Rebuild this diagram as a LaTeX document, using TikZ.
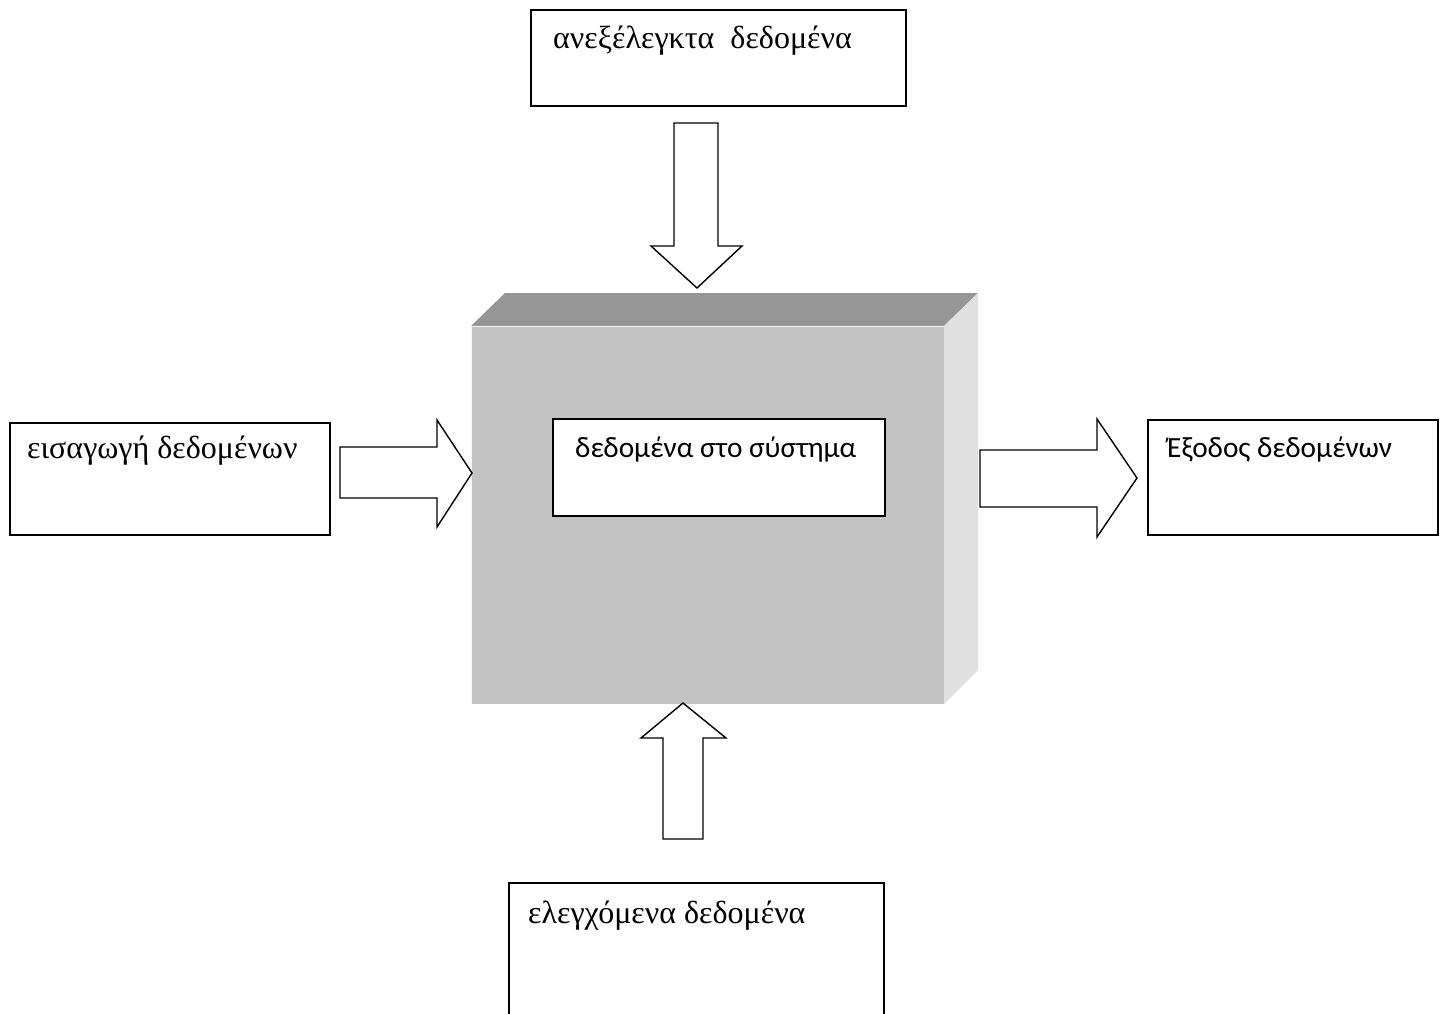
\documentclass[tikz,border=0pt]{standalone}
\usepackage{fontspec}
\setmainfont{Liberation Serif}
\newfontfamily\sansgr{Carlito}
\usetikzlibrary{fit,calc}
\definecolor{frontgray}{HTML}{C3C3C3}
\definecolor{topgray}{HTML}{969696}
\definecolor{sidegray}{HTML}{E0E0E0}
\tikzset{
  box/.style={draw=black, line width=1.6pt, fill=white, inner sep=0pt, outer sep=0pt},
  blockarrow/.style={draw=black, line width=1.4pt, fill=white, line join=miter},
  seriflabel/.style={anchor=base west, inner sep=0pt, font=\fontsize{32}{38}\selectfont},
  sanslabel/.style={anchor=base west, inner sep=0pt, font=\sansgr\fontsize{29.3}{35}\selectfont},
}
\begin{document}
\begin{tikzpicture}[x=1pt, y=-1pt]
  \clip (0,0) rectangle (1444,1014);
  \fill[white] (0,0) rectangle (1444,1014);

  % the system block, drawn as a shaded slab
  \coordinate (fa) at (471,326);
  \coordinate (fb) at (944,326);
  \coordinate (fc) at (944,704);
  \coordinate (fd) at (471,704);
  \fill[frontgray] (fa) rectangle (fc);
  \fill[topgray] (fa) -- ++(34,-33) -- ($(fb)+(34,-33)$) -- (fb) -- cycle;
  \fill[sidegray] (fb) -- ++(34,-33) -- ($(fc)+(34,-34)$) -- (fc) -- cycle;
  \draw[white!85!frontgray, line width=1pt] ($(fd)+(0.5,0)$) -- ($(fa)+(0.5,0.5)$) -- ($(fb)+(0,0.5)$);

  % boxes
  \node[box, fit={(531,10) (906,106)}] (unctl) {};
  \node[box, fit={(10,423) (330,535)}] (input) {};
  \node[box, fit={(553,419) (885,516)}] (sys) {};
  \node[box, fit={(1148,420) (1438,535)}] (output) {};
  \node[box, fit={(509,883) (884,1040)}] (ctl) {};

  % labels
  \node[seriflabel] (unctltxt) at (553,49) {ανεξέλεγκτα\ \ δεδομένα};
  \node[seriflabel] (inputtxt) at (27,458) {εισαγωγή δεδομένων};
  \node[sanslabel] (systxt) at (575,457) {δεδομένα στο σύστημα};
  \node[sanslabel] (outputtxt) at (1167,457) {Έξοδος δεδομένων};
  \node[seriflabel] (ctltxt) at (528,923) {ελεγχόμενα δεδομένα};

  % block arrows into and out of the system
  \draw[blockarrow] (674,123) -- (718,123) -- (718,246) -- (742,246) -- (697,288)
    -- (651,246) -- (674,246) -- cycle;
  \draw[blockarrow] (340,447) -- (437,447) -- (437,420) -- (472,473) -- (437,527)
    -- (437,498) -- (340,498) -- cycle;
  \draw[blockarrow] (980,450) -- (1097,450) -- (1097,419) -- (1137,478) -- (1097,537)
    -- (1097,507) -- (980,507) -- cycle;
  \draw[blockarrow] (663,839) -- (663,738) -- (641,738) -- (683,703) -- (726,738)
    -- (703,738) -- (703,839) -- cycle;
\end{tikzpicture}
\end{document}
